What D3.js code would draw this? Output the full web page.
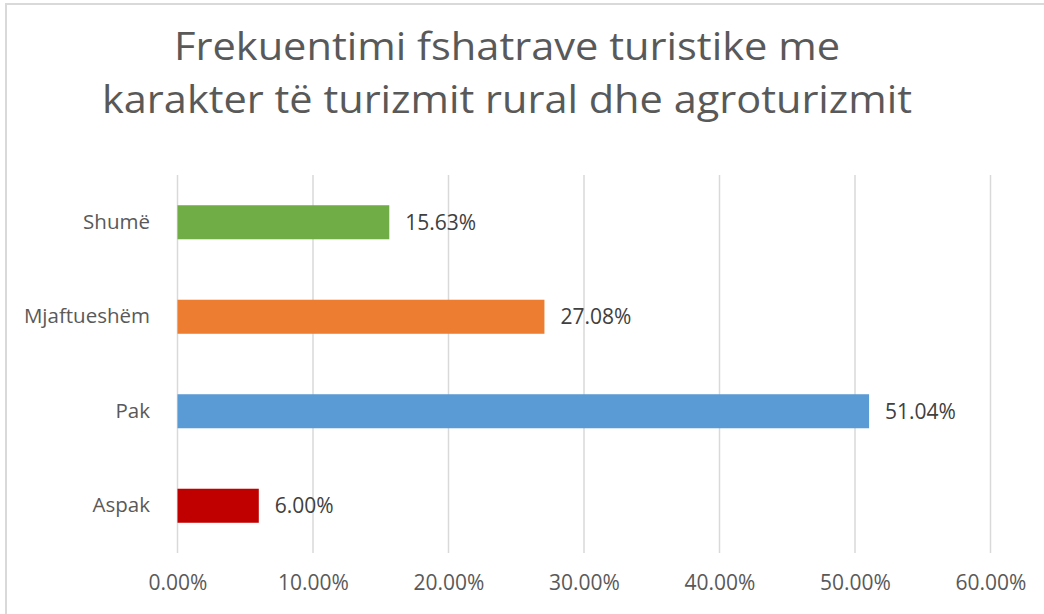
<!DOCTYPE html>
<html>
<head>
<meta charset="utf-8">
<script src="https://cdn.jsdelivr.net/npm/d3@7"></script>
<style>
  body { margin: 0; background: #fff; }
  svg { display: block; font-family: "Open Sans", sans-serif; }
</style>
</head>
<body>
<script>
const categories = ["Shumë", "Mjaftueshëm", "Pak", "Aspak"];
const values = [15.63, 27.08, 51.04, 6.00];
const colors = ["#70AD47", "#ED7D31", "#5B9BD5", "#C00000"];
const ticks = [0, 10, 20, 30, 40, 50, 60];
const titleLines = ["Frekuentimi fshatrave turistike me", "karakter të turizmit rural dhe agroturizmit"];

const width = 1044, height = 614;
const svg = d3.select("body").append("svg")
  .attr("width", width)
  .attr("height", height);

// chart area border (right/bottom fall outside the picture)
svg.append("rect")
  .attr("x", 6).attr("y", 4)
  .attr("width", width).attr("height", height)
  .attr("fill", "#fff")
  .attr("stroke", "#D9D9D9")
  .attr("stroke-width", 2);

// title
const titleW = [666, 810];
svg.append("g").selectAll("text")
  .data(titleLines)
  .join("text")
  .attr("x", 507)
  .attr("y", (d, i) => 60 + i * 53)
  .attr("text-anchor", "middle")
  .attr("fill", "#595959")
  .style("font-size", "39px")
  .attr("textLength", (d, i) => titleW[i])
  .attr("lengthAdjust", "spacingAndGlyphs")
  .text(d => d);

const x = d3.scaleLinear().domain([0, 60]).range([177.5, 990.5]);
const y = d3.scaleBand().domain(categories).range([175, 553])
  .paddingInner(0.64).paddingOuter(0.32);

// gridlines
svg.append("g").selectAll("line")
  .data(ticks)
  .join("line")
  .attr("x1", d => x(d)).attr("x2", d => x(d))
  .attr("y1", 175).attr("y2", 553)
  .attr("stroke", "#D9D9D9")
  .attr("stroke-width", 1.5);

// x axis labels
const xAxis = svg.append("g")
  .attr("transform", "translate(0,553)")
  .call(d3.axisBottom(x).tickValues(ticks).tickSize(0).tickPadding(22)
    .tickFormat(d => d.toFixed(2) + "%"));
xAxis.select(".domain").remove();
xAxis.selectAll("text")
  .attr("fill", "#595959")
  .style("font-size", "21px")
  .style("font-family", "Open Sans, sans-serif");

// y axis labels
const yAxis = svg.append("g")
  .attr("transform", "translate(177,0)")
  .call(d3.axisLeft(y).tickSize(0).tickPadding(27));
yAxis.select(".domain").remove();
yAxis.selectAll("text")
  .attr("fill", "#595959")
  .style("font-size", "20.5px")
  .style("font-family", "Open Sans, sans-serif");

// bars
svg.append("g").selectAll("rect")
  .data(categories)
  .join("rect")
  .attr("x", x(0))
  .attr("y", d => y(d))
  .attr("width", (d, i) => x(values[i]) - x(0))
  .attr("height", y.bandwidth())
  .attr("fill", (d, i) => colors[i]);

// data labels
svg.append("g").selectAll("text")
  .data(categories)
  .join("text")
  .attr("x", (d, i) => x(values[i]) + 16)
  .attr("y", d => y(d) + y.bandwidth() / 2)
  .attr("dy", "0.35em")
  .attr("fill", "#404040")
  .style("font-size", "21px")
  .text((d, i) => values[i].toFixed(2) + "%");
</script>
</body>
</html>
